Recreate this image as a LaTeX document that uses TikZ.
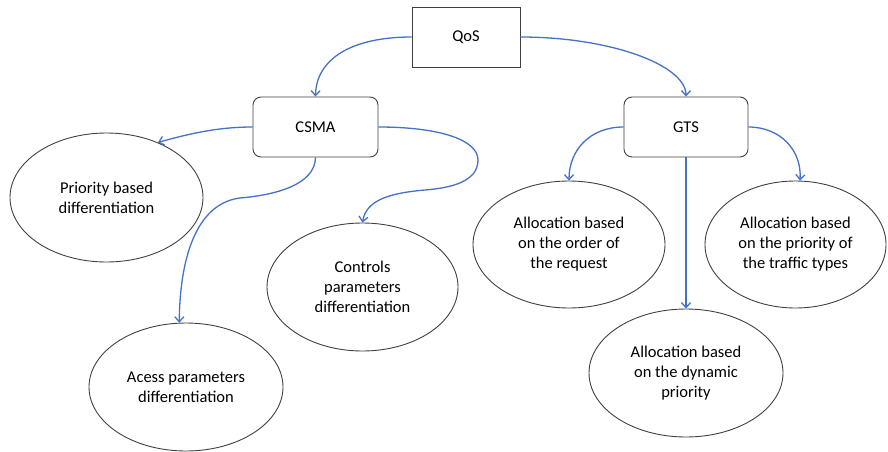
\documentclass[tikz,border=0pt]{standalone}
\usepackage{fontspec}
\setmainfont{Carlito}
\usetikzlibrary{shapes.geometric,arrows.meta}
\definecolor{arrblue}{HTML}{4472C4}
\definecolor{edgegray}{HTML}{404040}
\begin{document}
\begin{tikzpicture}[x=1pt,y=-1pt,
  every node/.style={font=\fontsize{16.5}{20}\selectfont, text=black, align=center, inner sep=0pt},
  sqbox/.style={draw=edgegray, line width=0.9pt, rectangle, minimum width=108pt, minimum height=60pt},
  rbox/.style={draw=edgegray, line width=0.9pt, rectangle, rounded corners=8pt, minimum width=125pt, minimum height=60pt},
  oval/.style={draw=edgegray, line width=0.9pt, ellipse},
  arr/.style={draw=arrblue, line width=1.3pt, -{Straight Barb[length=5pt,width=9pt]}}
]
\useasboundingbox (0,0) rectangle (888,452);
\node[sqbox] (qos) at (466,37) {QoS};
\node[rbox] (csma) at (315.5,127) {CSMA};
\node[rbox, minimum width=124pt] (gts) at (686,127) {GTS};
\node[oval, minimum width=193pt, minimum height=129pt] (prio) at (106.5,197.5) {Priority based\\differentiation};
\node[oval, minimum width=194pt, minimum height=128pt] (acc) at (186,387) {Acess parameters\\differentiation};
\node[oval, minimum width=191pt, minimum height=128pt] (ctrl) at (362.5,287) {Controls\\parameters\\differentiation};
\node[oval, minimum width=192pt, minimum height=127pt] (ord) at (569,244.5) {Allocation based\\on the order of\\the request};
\node[oval, minimum width=194pt, minimum height=128pt] (dyn) at (686,373) {Allocation based\\on the dynamic\\priority};
\node[oval, minimum width=181pt, minimum height=127pt] (trf) at (795.5,244.5) {Allocation based\\on the priority of\\the traffic types};

\draw[arr] (qos.west) .. controls (350,37) and (316,60) .. (csma.north);
\draw[arr] (qos.east) .. controls (610,37) and (686,65) .. (gts.north);
\draw[arr] (csma.west) .. controls (215,127) and (185,135) .. (prio.47);
\draw[arr] (csma.south) .. controls (315,185) and (275,195) .. (240,198)
  .. controls (200,203) and (180,250) .. (acc.96);
\draw[arr] (csma.east) .. controls (440,127) and (478,140) .. (478,160)
  .. controls (478,182) and (450,188) .. (425,190)
  .. controls (390,193) and (366,200) .. (ctrl.north);
\draw[arr] (gts.west) .. controls (590,127) and (569,150) .. (ord.north);
\draw[arr] (gts.south) -- (dyn.north);
\draw[arr] (gts.east) .. controls (780,127) and (802,150) .. (trf.86);
\end{tikzpicture}
\end{document}
